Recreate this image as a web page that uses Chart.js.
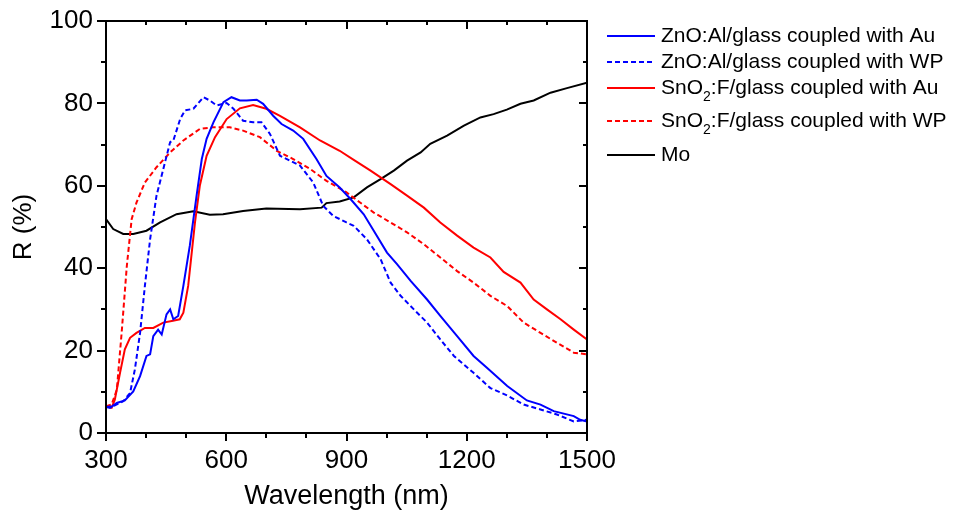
<!DOCTYPE html>
<html>
<head>
<meta charset="utf-8">
<script src="https://cdn.jsdelivr.net/npm/chart.js@4.4.1/dist/chart.umd.min.js"></script>
<style>
  html, body { margin: 0; padding: 0; background: #fff; }
  canvas { display: block; }
</style>
</head>
<body>
<canvas id="c" width="953" height="515"></canvas>
<script>
// Reflectance spectra, R (%) versus wavelength (nm)
const znoAuNm = [300,310,327,347,368,385,401,410,418,430,439,451,460,468,480,493,509,526,539,551,568,593,613,634,651,676,692,717,738,767,792,825,850,883,910,943,968,1001,1026,1060,1101,1134,1176,1217,1251,1301,1350,1384,1417,1467,1483,1500];
const znoAuR  = [6.3,6.1,7.3,7.9,10.1,13.8,18.7,19.1,23.5,25.1,23.9,28.8,30.0,27.6,28.4,35.7,45.4,57.6,66.5,71.4,75.4,80.3,81.5,80.7,80.7,80.9,79.9,77.0,75.0,73.4,71.4,66.5,62.4,59.6,56.8,53.1,49.1,43.8,41.0,36.9,32.4,28.4,23.5,18.7,15.8,11.4,7.9,6.9,5.3,4.1,3.2,2.8];

const znoWpNm = [300,318,343,360,372,385,397,410,426,443,460,468,485,497,518,543,559,576,601,618,642,667,688,709,734,759,784,817,842,867,900,918,951,985,1010,1035,1068,1101,1134,1168,1217,1259,1301,1342,1384,1425,1467,1500];
const znoWpR  = [6.3,6.5,7.7,9.7,15.4,24.3,35.7,47.0,57.6,64.1,70.6,71.0,76.2,78.3,78.7,81.5,80.7,79.5,80.1,78.7,75.8,75.4,75.4,72.6,67.3,66.1,64.9,60.8,55.1,52.7,51.1,50.3,47.0,42.2,36.5,33.3,30.0,26.8,22.7,18.7,14.6,10.9,9.1,6.9,5.7,4.5,2.8,3.2];

const snoAuNm = [300,314,322,335,347,360,376,397,418,443,464,484,493,505,522,534,551,572,601,634,667,700,734,784,834,883,918,960,1010,1051,1093,1134,1176,1217,1259,1292,1334,1367,1400,1434,1467,1500];
const snoAuR  = [6.5,6.1,8.1,14.6,20.3,23.1,24.3,25.5,25.5,26.8,27.2,27.6,29.2,35.7,51.1,60.0,67.3,71.8,76.2,78.8,79.6,78.7,77.0,74.2,71.0,68.5,66.3,63.7,60.4,57.6,54.7,51.1,47.9,45.0,42.6,39.1,36.5,32.4,30.0,27.6,25.1,22.7];

const snoWpNm = [300,314,327,339,352,364,376,397,426,460,493,534,568,609,642,684,726,767,809,850,900,933,968,1010,1051,1093,1134,1176,1217,1259,1301,1342,1384,1425,1467,1500];
const snoWpR  = [6.5,6.9,10.5,24.3,40.6,51.9,55.9,60.8,64.5,68.1,71.0,73.8,74.2,74.2,73.4,71.8,68.5,66.5,64.1,61.2,58.4,56.0,53.5,51.1,48.7,45.8,42.6,39.3,36.5,33.3,30.8,26.8,24.3,21.9,19.5,19.1];

const moNm = [300,318,343,368,401,435,476,518,559,592,642,700,784,838,850,883,918,951,985,1018,1051,1085,1109,1151,1193,1234,1267,1300,1334,1367,1409,1450,1500];
const moR  = [51.9,49.5,48.3,48.3,49.1,51.1,53.1,53.8,53.0,53.1,53.9,54.5,54.3,54.7,55.8,56.2,57.2,59.6,61.6,63.7,66.1,68.1,70.2,72.2,74.6,76.6,77.4,78.5,79.9,80.7,82.6,83.7,85.0];

const seriesLabels = [
  'ZnO:Al/glass coupled with Au',
  'ZnO:Al/glass coupled with WP',
  'SnO₂:F/glass coupled with Au',
  'SnO₂:F/glass coupled with WP',
  'Mo'
];
const xTickLabels = [300, 600, 900, 1200, 1500];
const yTickLabels = [0, 20, 40, 60, 80, 100];

const FONT = 'Arial, "Liberation Sans", sans-serif';

function pts(xs, ys) { return xs.map((x, i) => ({ x: x, y: ys[i] })); }

const styles = [
  { color: '#0000ff', dash: [] },
  { color: '#0000ff', dash: [5, 3] },
  { color: '#ff0000', dash: [] },
  { color: '#ff0000', dash: [5, 3] },
  { color: '#000000', dash: [] }
];
const seriesData = [
  pts(znoAuNm, znoAuR),
  pts(znoWpNm, znoWpR),
  pts(snoAuNm, snoAuR),
  pts(snoWpNm, snoWpR),
  pts(moNm, moR)
];

// Frame with inward/outward tick marks, drawn through the chart scales
const framePlugin = {
  id: 'frame',
  afterDatasetsDraw(chart) {
    const { ctx, chartArea: a, scales: { x, y } } = chart;
    ctx.save();
    ctx.strokeStyle = '#000';
    ctx.lineWidth = 2;
    ctx.setLineDash([]);
    ctx.beginPath();
    ctx.rect(a.left, a.top, a.right - a.left, a.bottom - a.top);
    ctx.stroke();
    ctx.beginPath();
    for (let v = 300; v <= 1500; v += 100) {
      const px = Math.round(x.getPixelForValue(v));
      const major = xTickLabels.includes(v);
      ctx.moveTo(px, a.bottom); ctx.lineTo(px, a.bottom + (major ? 8 : 5));
      ctx.moveTo(px, a.top); ctx.lineTo(px, a.top + (major ? 8 : 4));
    }
    for (let v = 0; v <= 100; v += 10) {
      const py = Math.round(y.getPixelForValue(v));
      const major = yTickLabels.includes(v);
      ctx.moveTo(a.left, py); ctx.lineTo(a.left - (major ? 9 : 5), py);
      ctx.moveTo(a.right, py); ctx.lineTo(a.right - (major ? 8 : 4), py);
    }
    ctx.stroke();
    ctx.restore();
  }
};

// Legend to the right of the plot, with subscript support
const legendPlugin = {
  id: 'sideLegend',
  afterDraw(chart) {
    const { ctx } = chart;
    const rowsY = [36, 62, 88, 121, 155];
    const x0 = 607, x1 = 655, tx = 661;
    const big = '21px ' + FONT, small = '14px ' + FONT;
    ctx.save();
    seriesLabels.forEach((label, i) => {
      const yy = rowsY[i];
      ctx.strokeStyle = styles[i].color;
      ctx.lineWidth = 2;
      ctx.setLineDash(styles[i].dash);
      ctx.beginPath();
      ctx.moveTo(x0, yy); ctx.lineTo(x1, yy);
      ctx.stroke();
      ctx.fillStyle = '#000';
      ctx.textBaseline = 'middle';
      ctx.textAlign = 'left';
      let cx = tx;
      const parts = label.split('₂');
      parts.forEach((p, k) => {
        ctx.font = big;
        ctx.fillText(p, cx, yy);
        cx += ctx.measureText(p).width;
        if (k < parts.length - 1) {
          ctx.font = small;
          ctx.fillText('2', cx, yy + 9);
          cx += ctx.measureText('2').width;
        }
      });
    });
    ctx.restore();
  }
};

new Chart(document.getElementById('c'), {
  type: 'line',
  data: {
    datasets: seriesData.map((d, i) => ({
      label: seriesLabels[i],
      data: d,
      borderColor: styles[i].color,
      borderDash: styles[i].dash,
      borderWidth: 2,
      pointRadius: 0,
      tension: 0,
      fill: false
    }))
  },
  options: {
    responsive: false,
    devicePixelRatio: 1,
    animation: false,
    layout: { padding: { top: 21, right: 366, left: 0, bottom: 0 } },
    plugins: { legend: { display: false }, tooltip: { enabled: false } },
    scales: {
      x: {
        type: 'linear',
        min: 300, max: 1500,
        afterFit(s) { s.height = 82; },
        grid: { display: false, drawTicks: false },
        border: { display: false },
        ticks: {
          stepSize: 300,
          padding: 12,
          color: '#000',
          font: { family: FONT, size: 26 },
          callback: v => (xTickLabels.includes(v) ? String(v) : '')
        },
        title: {
          display: true,
          text: 'Wavelength (nm)',
          color: '#000',
          font: { family: FONT, size: 27 },
          padding: { top: 0, bottom: 2 }
        }
      },
      y: {
        type: 'linear',
        min: 0, max: 100,
        afterFit(s) { s.width = 106; },
        grid: { display: false, drawTicks: false },
        border: { display: false },
        ticks: {
          stepSize: 20,
          padding: 13,
          color: '#000',
          font: { family: FONT, size: 26, lineHeight: 0.6 },
          callback: v => (yTickLabels.includes(v) ? String(v) : '')
        },
        title: {
          display: true,
          text: 'R (%)',
          color: '#000',
          font: { family: FONT, size: 26 },
          padding: { top: 8, bottom: 0 }
        }
      }
    }
  },
  plugins: [framePlugin, legendPlugin]
});
</script>
</body>
</html>
